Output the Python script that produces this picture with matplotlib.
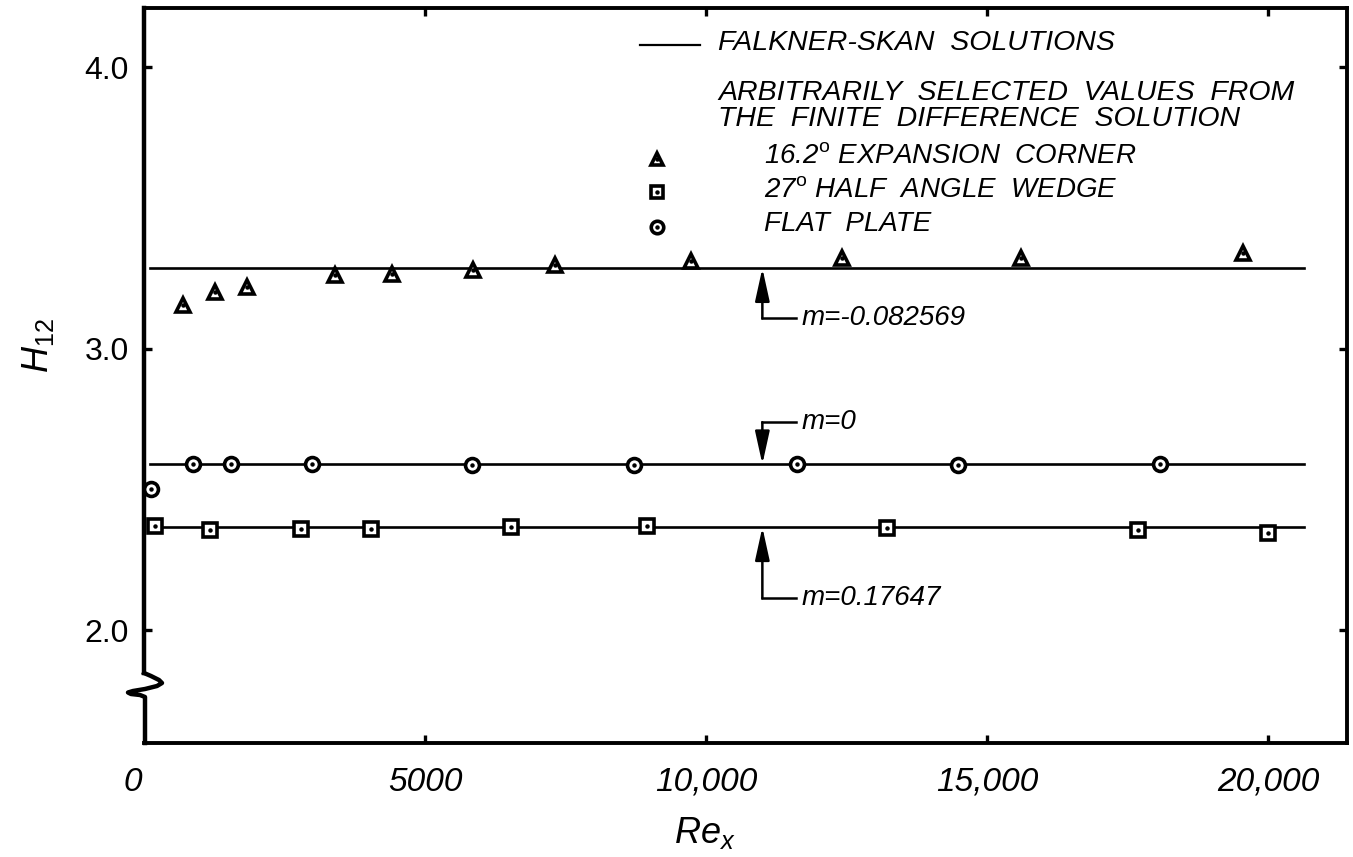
import matplotlib
matplotlib.use('Agg')
import matplotlib.pyplot as plt
from matplotlib.transforms import ScaledTranslation

plt.rcParams['font.family'] = ['Liberation Sans', 'DejaVu Sans']
plt.rcParams['mathtext.fontset'] = 'custom'
plt.rcParams['mathtext.rm'] = 'Liberation Sans'
plt.rcParams['mathtext.it'] = 'Liberation Sans:italic'

# ---------------- data ----------------
tri_x = [700, 1260, 1830, 3400, 4410, 5850, 7310, 9730, 12420, 15600, 19550]
tri_h = [3.155, 3.202, 3.220, 3.261, 3.267, 3.279, 3.297, 3.311, 3.322, 3.322, 3.339]

sq_x = [200, 1170, 2800, 4040, 6530, 8950, 13220, 17680, 20000]
sq_h = [2.369, 2.355, 2.359, 2.361, 2.366, 2.369, 2.362, 2.355, 2.345]

circ_x = [130, 880, 1540, 2980, 5840, 8720, 11620, 14480, 18080]
circ_h = [2.503, 2.590, 2.590, 2.590, 2.587, 2.587, 2.590, 2.587, 2.590]

fs_labels = ['m=-0.082569', 'm=0', 'm=0.17647']
fs_h = [3.286, 2.590, 2.366]
fs_x = [100, 20640]
fs_label_h = [3.108, 2.739, 2.114]
arrow_x = 11000

xticks = [0, 5000, 10000, 15000, 20000]
xtick_labels = ['0', '5000', '10,000', '15,000', '20,000']
yticks = [2.0, 3.0, 4.0]
ytick_labels = ['2.0', '3.0', '4.0']

legend_lines = ['FALKNER-SKAN  SOLUTIONS',
                'ARBITRARILY  SELECTED  VALUES  FROM',
                'THE  FINITE  DIFFERENCE  SOLUTION']
legend_series = ['16.2$^{\\mathrm{o}}$ EXPANSION  CORNER',
                 '27$^{\\mathrm{o}}$ HALF  ANGLE  WEDGE',
                 'FLAT  PLATE']

# ---------------- figure ----------------
W, H = 1353, 857
fig = plt.figure(figsize=(W / 100, H / 100), dpi=100)
ax = fig.add_axes([144 / W, 1 - 743 / H, 1203 / W, 735 / H])
ax.set_xlim(0, 21400)
ax.set_ylim(1.6, 4.21)

lw_line = 1.9
for h in fs_h:
    ax.plot(fs_x, [h, h], color='black', lw=lw_line, zorder=2)

mk = dict(ls='none', mfc='white', mec='black', mew=2.6, zorder=4, clip_on=False)
ax.plot(tri_x, tri_h, marker='^', ms=10, **mk)
ax.plot(sq_x, sq_h, marker='s', ms=9.5, **mk)
ax.plot(circ_x, circ_h, marker='o', ms=10, **mk)
dot = dict(ls='none', marker='o', ms=2.2, color='black', zorder=5, clip_on=False)
ax.plot(tri_x, tri_h, **dot)
ax.plot(sq_x, sq_h, **dot)
ax.plot(circ_x, circ_h, **dot)

# annotations (arrows + brackets)
head = '-|>,head_length=1.0,head_width=0.22'
for lab, h, lh in zip(fs_labels, fs_h, fs_label_h):
    ax.annotate('', xy=(arrow_x, h), xytext=(arrow_x, lh),
                arrowprops=dict(arrowstyle=head, mutation_scale=20, lw=1.8,
                                color='black', shrinkA=0, shrinkB=0), zorder=3)
    ax.plot([arrow_x, 11600], [lh, lh], color='black', lw=1.8, zorder=3)
    ax.text(11700, lh, lab, fontsize=20, style='italic', ha='left', va='center')

# legend block
ax.plot([8820, 9890], [4.078, 4.078], color='black', lw=1.6)
ax.text(10210, 4.085, legend_lines[0], fontsize=20.5, style='italic', va='center')
ax.text(10210, 3.908, legend_lines[1], fontsize=20.5, style='italic', va='center')
ax.text(10210, 3.815, legend_lines[2], fontsize=20.5, style='italic', va='center')
leg_y = [3.683, 3.563, 3.442]
leg_m = ['^', 's', 'o']
for y, m, t in zip(leg_y, leg_m, legend_series):
    ax.plot([9130], [y - 0.008], marker=m, ms=9, **mk)
    ax.plot([9130], [y - 0.008], **dot)
    ax.text(11030, y, t, fontsize=20, style='italic', va='center')

# axes styling
for s in ['top', 'right', 'bottom']:
    ax.spines[s].set_linewidth(2.8)
ax.spines['left'].set_visible(False)
tr = ax.transAxes
px = lambda x: (x - 144) / 1203
py = lambda y: (743 - y) / 735
ax.plot([0, 0], [py(673), 1.0], color='black', lw=3.2, transform=tr, clip_on=False,
        solid_capstyle='projecting')
sx = [144, 151, 159, 162, 157, 145, 133, 128, 131, 140, 145, 145]
sy = [673, 676, 680, 683, 686, 689, 691, 692.5, 694, 695, 697, 743]
ax.plot([px(v) for v in sx], [py(v) for v in sy], color='black', lw=3.2,
        transform=tr, clip_on=False, solid_joinstyle='round')

ax.set_xticks(xticks)
ax.set_xticklabels(xtick_labels, fontsize=24, style='italic')
ax.set_yticks(yticks)
ax.set_yticklabels(ytick_labels, fontsize=23)
ax.tick_params(axis='both', direction='in', length=6, width=2.4, top=True, right=True)
ax.tick_params(axis='x', pad=17)
ax.tick_params(axis='y', pad=11)
lbl0 = ax.get_xticklabels()[0]
lbl0.set_transform(lbl0.get_transform() + ScaledTranslation(-11 / 100, 0, fig.dpi_scale_trans))
ax.xaxis.get_major_ticks()[0].tick1line.set_visible(False)
ax.xaxis.get_major_ticks()[0].tick2line.set_visible(False)

ax.text(px(705), py(833), '$Re_x$', transform=tr, fontsize=26, ha='center', va='center')
ax.text(px(38), py(346), '$H_{\\mathrm{12}}$', transform=tr, fontsize=26, ha='center',
        va='center', rotation=90)

fig.savefig('out.png', dpi=100)
